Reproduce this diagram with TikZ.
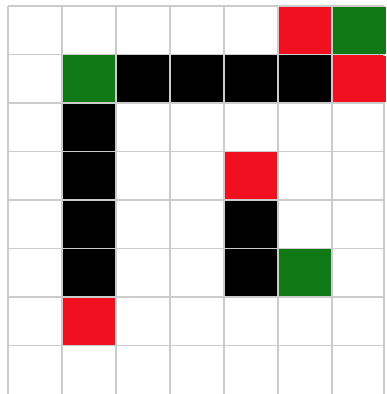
\documentclass[tikz,border=0pt]{standalone}
\definecolor{cellred}{RGB}{240,16,32}
\definecolor{cellgreen}{RGB}{16,120,20}
\definecolor{gridgray}{RGB}{204,204,204}
\tikzset{
  gridline/.style={draw=gridgray, line width=1.5pt}
}
\begin{document}
\begin{tikzpicture}[x=1pt,y=-1pt]
\useasboundingbox (0,0) rectangle (386,394);
\fill[white] (0,0) rectangle (386,394);
\def\xs{{8,62,116,170,224,278,332,384}}
\def\rh{48.5}
\foreach \c/\r/\col in {5/0/cellred,6/0/cellgreen,
  1/1/cellgreen,2/1/black,3/1/black,4/1/black,5/1/black,6/1/cellred,
  1/2/black,1/3/black,4/3/cellred,1/4/black,4/4/black,
  1/5/black,4/5/black,5/5/cellgreen,1/6/cellred}{
  \pgfmathsetmacro{\xa}{\xs[\c]}
  \pgfmathsetmacro{\xb}{\xs[\c+1]}
  \fill[\col] (\xa,{6+\rh*\r}) rectangle (\xb,{6+\rh*(\r+1)});
}
% grid
\foreach \c in {0,...,7}{
  \pgfmathsetmacro{\xa}{\xs[\c]}
  \draw[gridline] (\xa,6) -- (\xa,394);
}
\foreach \r in {0,...,7}{
  \draw[gridline] (8,{6+\rh*\r}) -- (384,{6+\rh*\r});
}
% rightmost coloured cells reach the edge
\fill[cellgreen] (333,{6+1}) rectangle (386,{6+\rh-1});
\fill[cellred] (333,{6+\rh+1}) rectangle (386,{6+2*\rh-1});
\end{tikzpicture}
\end{document}
